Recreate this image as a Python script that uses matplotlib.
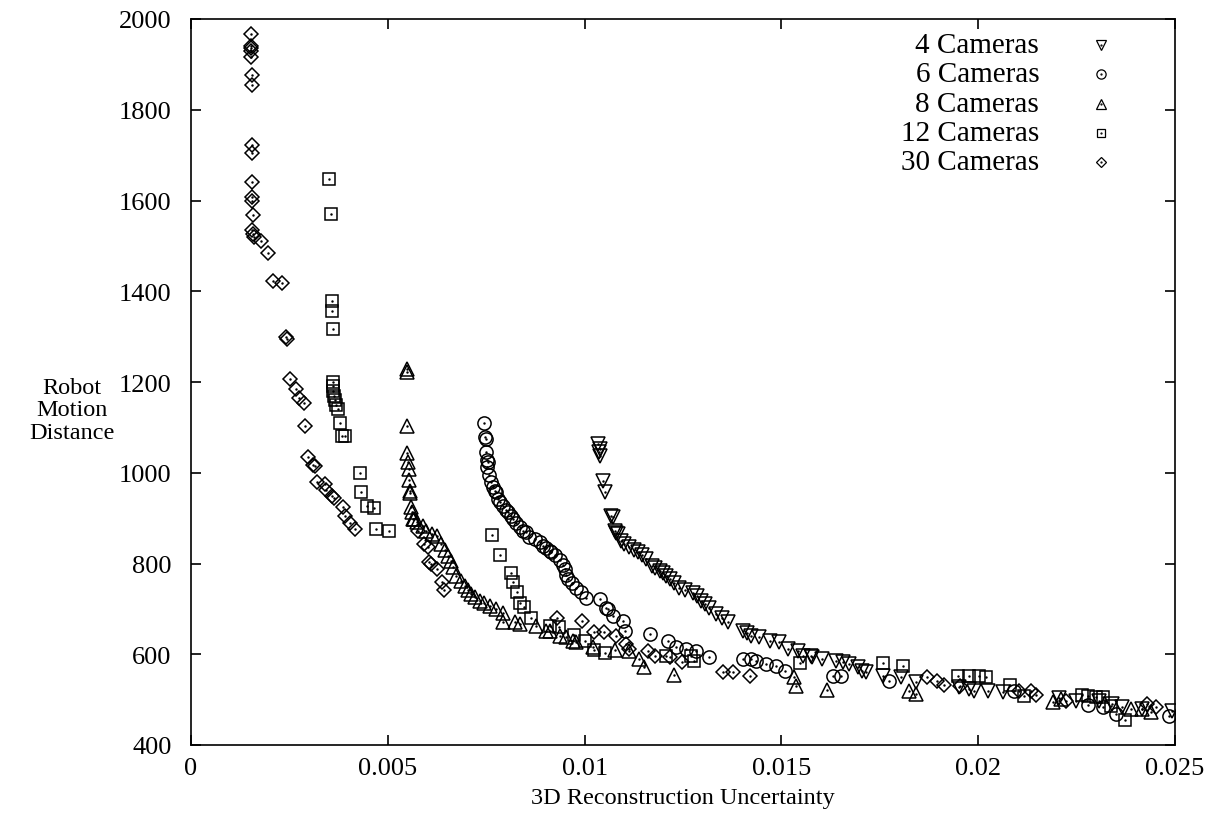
# Robot motion distance vs 3D reconstruction uncertainty, gnuplot look

import matplotlib.pyplot as plt

plt.rcParams['font.family'] = ['Liberation Serif', 'DejaVu Serif']

# 4 Cameras (down triangles)
cam4_x = [0.01034, 0.01038, 0.01039, 0.01036, 0.01048, 0.01051, 0.01068, 0.01071, 0.01076, 0.01080,
          0.01085, 0.01093, 0.01100, 0.01114, 0.01125, 0.01135, 0.01146, 0.01157, 0.0117, 0.0118,
          0.01191, 0.01200, 0.01207, 0.01218, 0.01228, 0.01241, 0.01255, 0.01275, 0.01285, 0.01296,
          0.01307, 0.01317, 0.01334, 0.01350, 0.01364, 0.01402, 0.01412, 0.01423, 0.01444, 0.0147,
          0.01495, 0.01516, 0.01541, 0.01554, 0.01575, 0.01579, 0.01603, 0.01639, 0.01656, 0.01673,
          0.01694, 0.01706, 0.01715, 0.01757, 0.01804, 0.01842, 0.01952, 0.01977, 0.0199, 0.02024,
          0.02062, 0.02206, 0.02248, 0.02307, 0.02341, 0.02366, 0.02417, 0.02493]
cam4_y = [1063, 1052, 1038, 1045, 982, 958, 905, 902, 872, 868,
          865, 850, 843, 836, 830, 825, 818, 810, 795, 790,
          784, 779, 773, 765, 758, 747, 742, 736, 728, 718,
          710, 703, 689, 680, 670, 652, 646, 641, 637, 630,
          626, 611, 608, 597, 597, 593, 590, 586, 582, 578,
          571, 564, 560, 553, 549, 538, 527, 523, 520, 520,
          516, 503, 498, 498, 490, 483, 479, 476]

# 6 Cameras (circles)
cam6_x = [0.00744, 0.00746, 0.00749, 0.00749, 0.00751, 0.00752, 0.00755, 0.00757, 0.00763, 0.00768,
          0.00772, 0.00776, 0.0078, 0.00786, 0.00793, 0.00800, 0.00805, 0.00814, 0.00818, 0.00826,
          0.00835, 0.00844, 0.00852, 0.0086, 0.00873, 0.00886, 0.00894, 0.00903, 0.00911, 0.00915,
          0.00926, 0.00937, 0.00945, 0.00949, 0.00954, 0.00958, 0.00968, 0.00979, 0.00992, 0.01004,
          0.01038, 0.01055, 0.01059, 0.01072, 0.01097, 0.01102, 0.01165, 0.01212, 0.01233, 0.01258,
          0.01284, 0.01317, 0.01402, 0.01423, 0.01436, 0.01461, 0.01487, 0.01508, 0.0163, 0.01651,
          0.01774, 0.02091, 0.02278, 0.02316, 0.0235, 0.02485]
cam6_y = [1109, 1078, 1074, 1045, 1027, 1012, 1023, 994, 979, 968,
          960, 957, 942, 935, 927, 918, 913, 905, 898, 890,
          880, 872, 869, 858, 854, 847, 839, 835, 828, 825,
          818, 808, 796, 788, 775, 766, 756, 747, 737, 725,
          722, 703, 700, 685, 674, 652, 645, 630, 615, 612,
          608, 593, 590, 590, 586, 578, 575, 564, 553, 553,
          542, 520, 489, 483, 468, 465]

# 8 Cameras (up triangles)
cam8_x = [0.00549, 0.00549, 0.00549, 0.00549, 0.00551, 0.00553, 0.00554, 0.00556, 0.00557, 0.00558,
          0.00561, 0.00564, 0.00566, 0.00573, 0.0059, 0.00598, 0.00612, 0.00624, 0.00636, 0.00645,
          0.00653, 0.0066, 0.00666, 0.00674, 0.00685, 0.00695, 0.00703, 0.00712, 0.00722, 0.00733,
          0.00745, 0.00759, 0.00776, 0.00793, 0.00793, 0.00824, 0.00837, 0.00877, 0.00903, 0.00911,
          0.00937, 0.00954, 0.0097, 0.00979, 0.01021, 0.01078, 0.01114, 0.01139, 0.0115, 0.01228,
          0.01533, 0.01537, 0.01615, 0.01825, 0.01843, 0.02189, 0.0221, 0.02388, 0.02417, 0.02438]
cam8_y = [1228, 1222, 1102, 1043, 1023, 1008, 984, 960, 955, 924,
          913, 898, 898, 891, 883, 872, 866, 861, 843, 830,
          817, 805, 792, 773, 762, 751, 742, 733, 726, 718,
          712, 707, 700, 692, 672, 670, 667, 663, 652, 652,
          641, 637, 630, 626, 615, 610, 608, 589, 571, 554,
          549, 531, 521, 518, 512, 494, 501, 479, 479, 472]

# 12 Cameras (squares)
cam12_x = [0.00351, 0.00356, 0.00358, 0.00358, 0.0036, 0.0036, 0.00361, 0.00362, 0.00364, 0.00366,
           0.00368, 0.00373, 0.00378, 0.00383, 0.00391, 0.00429, 0.00433, 0.00448, 0.00464, 0.00469,
           0.00503, 0.00766, 0.00786, 0.00814, 0.00818, 0.00827, 0.00837, 0.00845, 0.00865, 0.00911,
           0.00934, 0.00972, 0.01, 0.01023, 0.01051, 0.01207, 0.01271, 0.01278, 0.01548, 0.01759,
           0.0181, 0.01948, 0.01977, 0.02003, 0.0202, 0.0208, 0.02117, 0.02263, 0.02278, 0.02299,
           0.02316, 0.02337, 0.02372]
cam12_y = [1647, 1570, 1378, 1356, 1317, 1199, 1192, 1180, 1170, 1160,
           1150, 1140, 1110, 1082, 1080, 1000, 957, 927, 923, 876,
           871, 863, 819, 779, 760, 737, 714, 705, 680, 663,
           659, 642, 630, 610, 603, 597, 597, 586, 581, 581,
           574, 553, 553, 553, 550, 533, 509, 511, 509, 505,
           505, 487, 455]

# 30 Cameras (diamonds)
cam30_x = [0.00152, 0.00152, 0.00153, 0.00152, 0.00153, 0.00154, 0.00155, 0.00155, 0.00155, 0.00155,
           0.00156, 0.00156, 0.00157, 0.00156, 0.00158, 0.00159, 0.00177, 0.00195, 0.00209, 0.0023,
           0.00241, 0.00244, 0.00252, 0.00268, 0.00275, 0.00288, 0.0029, 0.00296, 0.0031, 0.00315,
           0.00319, 0.00341, 0.00344, 0.00359, 0.00364, 0.00387, 0.00391, 0.00404, 0.00417, 0.00577,
           0.00592, 0.00602, 0.00605, 0.00611, 0.00625, 0.00638, 0.00644, 0.0093, 0.00993, 0.01023,
           0.0105, 0.0108, 0.01106, 0.01114, 0.01161, 0.01178, 0.01216, 0.01247, 0.01351, 0.01378,
           0.01421, 0.01871, 0.01895, 0.01914, 0.01953, 0.02104, 0.02134, 0.02146, 0.02222, 0.0243,
           0.02451]
cam30_y = [1968, 1940, 1935, 1930, 1916, 1876, 1855, 1723, 1705, 1641,
           1608, 1599, 1568, 1536, 1526, 1519, 1510, 1484, 1422, 1419,
           1299, 1295, 1207, 1185, 1164, 1154, 1104, 1035, 1018, 1014,
           979, 976, 961, 948, 945, 924, 905, 889, 875, 871,
           844, 836, 804, 799, 788, 760, 742, 679, 673, 650,
           648, 640, 622, 611, 607, 597, 595, 582, 560, 560,
           553, 549, 540, 533, 529, 520, 520, 511, 498, 490,
           483]

names = ['4 Cameras', '6 Cameras', '8 Cameras', '12 Cameras', '30 Cameras']
markers = ['v', 'o', '^', 's', 'D']
sizes = [10, 9.5, 10, 9, 7]
xs = [cam4_x, cam6_x, cam8_x, cam12_x, cam30_x]
ys = [cam4_y, cam6_y, cam8_y, cam12_y, cam30_y]

fig = plt.figure(figsize=(12.2, 8.2), dpi=100)
ax = fig.add_axes([191 / 1220, 1 - 746 / 820, (1175 - 191) / 1220, (746 - 20) / 820])

for x, y, m, s in zip(xs, ys, markers, sizes):
    ax.plot(x, y, linestyle='none', marker=m, ms=s, mfc='none', mec='black', mew=1.1)
    ax.plot(x, y, linestyle='none', marker='.', ms=1.5, color='black')

ax.set_xlim(0, 0.025)
ax.set_ylim(400, 2000)
ax.set_xticks([0, 0.005, 0.01, 0.015, 0.02, 0.025])
ax.set_xticklabels(['0', '0.005', '0.01', '0.015', '0.02', '0.025'])
ax.set_yticks(range(400, 2001, 200))
ax.tick_params(direction='in', length=7, width=1.2, top=True, right=True, labelsize=19)
ax.tick_params(axis='y', pad=14)
ax.tick_params(axis='x', pad=9)
for sp in ax.spines.values():
    sp.set_linewidth(1.2)

# key, gnuplot style: right aligned text, marker to the right
for i, (n, m, s) in enumerate(zip(names, markers, sizes)):
    yy = 0.9645 - i * 0.0405
    ax.text(0.862, yy, n, transform=ax.transAxes, ha='right', va='center', fontsize=21)
    ax.plot([0.925], [yy], transform=ax.transAxes, linestyle='none', marker=m, ms=s * 0.7,
            mfc='none', mec='black', mew=0.9, clip_on=False)
    ax.plot([0.925], [yy], transform=ax.transAxes, linestyle='none', marker='.', ms=1.2,
            color='black', clip_on=False)

fig.text(72 / 1220, 1 - 411 / 820, 'Robot\nMotion\nDistance', ha='center', va='center',
         fontsize=17.5, linespacing=1.1)
fig.text(683 / 1220, 1 - 799 / 820, '3D Reconstruction Uncertainty', ha='center', va='center',
         fontsize=17.5)

fig.savefig('out.png', dpi=100)
